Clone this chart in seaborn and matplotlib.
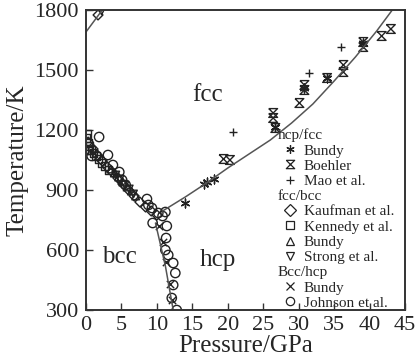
import matplotlib
matplotlib.use("Agg")
import matplotlib.pyplot as plt
import seaborn as sns
import pandas as pd
from matplotlib.lines import Line2D

# ---- data ----
# phase boundaries
hcp_fcc_P = [10.8, 14, 17, 20, 23, 26, 29, 32, 35, 38, 41, 43.2]
hcp_fcc_T = [795, 865, 935, 1010, 1080, 1150, 1235, 1330, 1445, 1565, 1695, 1800]
hcp_bcc_P = [9.8, 11.2, 12.3]
hcp_bcc_T = [735, 520, 300]
melt_P = [0.0, 2.3]
melt_T = [1690, 1800]

# hcp/fcc
bundy_hf_P = [14.0, 16.6, 17.1, 18.0, 26.7, 30.8, 34.0, 39.1]
bundy_hf_T = [835, 930, 940, 955, 1215, 1410, 1460, 1635]
boehler_P = [19.4, 20.3, 26.4, 26.4, 26.7, 30.1, 30.8, 30.8, 34.0, 36.3, 36.3, 39.1, 39.1, 41.7, 43.0]
boehler_T = [1055, 1050, 1285, 1260, 1210, 1335, 1425, 1400, 1460, 1525, 1490, 1640, 1615, 1670, 1705]
mao_P = [20.8, 31.4, 35.9]
mao_T = [1190, 1485, 1615]

# fcc/bcc
kaufman_P = [0.3, 1.0, 1.6, 2.3, 3.0, 3.7, 4.5, 5.2, 6.0, 6.8, 7.6, 8.4, 9.2, 10.0, 1.7]
kaufman_T = [1140, 1105, 1075, 1045, 1015, 990, 960, 930, 900, 870, 840, 815, 795, 775, 1775]
kennedy_P = [0.1, 0.3, 0.5, 0.8, 1.1, 1.4, 1.8, 2.2, 2.6, 3.2, 0.2]
kennedy_T = [1160, 1135, 1120, 1100, 1085, 1070, 1055, 1035, 1020, 1000, 1180]
bundy_fb_P = [3.5, 4.0, 4.6, 5.2, 5.8, 6.4, 7.0]
bundy_fb_T = [1005, 985, 965, 940, 915, 895, 870]
strong_P = [4.2, 4.8, 5.5, 6.1, 6.7, 2.2]
strong_T = [975, 955, 925, 905, 880, 1795]

# bcc/hcp
bundy_bh_P = [10.3, 10.8, 11.3, 11.8, 12.1]
bundy_bh_T = [720, 640, 540, 430, 350]
johnson_P = [0.3, 0.8, 1.85, 3.1, 3.8, 4.7, 5.1, 5.6, 8.6, 8.8, 9.3, 9.4, 10.2, 10.8, 11.2,
             11.4, 11.3, 11.2, 11.6, 12.3, 12.6, 12.3, 12.1, 12.8]
johnson_T = [1100, 1070, 1165, 1075, 1025, 990, 950, 925, 855, 825, 810, 735, 785, 770, 790,
             720, 660, 600, 575, 535, 485, 425, 360, 300]

sns.set_style("ticks")
plt.rcParams['font.family'] = ['Liberation Serif', 'DejaVu Serif']
plt.rcParams['mathtext.fontset'] = 'stix'

fig = plt.figure(figsize=(4.18, 3.62), dpi=100)
ax = fig.add_axes([0.2057, 0.1436, 0.7633, 0.8288])

line_col = "#555555"
mk_col = "#222222"
hourglass = [(-1, 1), (1, 1), (-1, -1), (1, -1), (-1, 1)]

for P, T in [(hcp_fcc_P, hcp_fcc_T), (hcp_bcc_P, hcp_bcc_T), (melt_P, melt_T)]:
    sns.lineplot(x=P, y=T, ax=ax, color=line_col, linewidth=1.1, sort=False)

series = [
    (bundy_hf_P, bundy_hf_T, (6, 2, 0), 40),
    (boehler_P, boehler_T, hourglass, 40),
    (mao_P, mao_T, "+", 40),
    (kaufman_P, kaufman_T, "D", 25),
    (kennedy_P, kennedy_T, "s", 28),
    (bundy_fb_P, bundy_fb_T, "^", 30),
    (strong_P, strong_T, "v", 30),
    (bundy_bh_P, bundy_bh_T, "x", 28),
    (johnson_P, johnson_T, "o", 45),
]
for P, T, m, s in series:
    df = pd.DataFrame({"P": P, "T": T})
    if m in ("+", "x", (6, 2, 0)):
        sns.scatterplot(data=df, x="P", y="T", ax=ax, marker=m, s=s, color=mk_col, linewidth=1.0)
    else:
        sns.scatterplot(data=df, x="P", y="T", ax=ax, marker=m, s=s, facecolor="none",
                        edgecolor=mk_col, linewidth=1.0)

ax.set_xlim(0, 45)
ax.set_ylim(300, 1800)
ax.set_xticks(range(0, 46, 5))
ax.set_yticks(range(300, 1801, 300))
ax.tick_params(direction="in", length=5, width=1, labelsize=16, color="#333333")
ax.tick_params(axis="x", pad=4)
ax.tick_params(axis="y", pad=5)
for sp in ax.spines.values():
    sp.set_linewidth(1.4)
    sp.set_color("#333333")
ax.set_xlabel("Pressure/GPa", fontsize=18, labelpad=0)
ax.set_ylabel("Temperature/K", fontsize=18, labelpad=4)

ax.text(17.2, 1375, "fcc", fontsize=18, ha="center", va="center")
ax.text(4.7, 565, "bcc", fontsize=18, ha="center", va="center")
ax.text(18.6, 550, "hcp", fontsize=18, ha="center", va="center")

# legend with section headers
def h(m):
    if m is None:
        return Line2D([], [], linestyle="none", marker=None)
    return Line2D([], [], linestyle="none", marker=m, markersize=6, color=mk_col,
                  markerfacecolor="none", markeredgewidth=0.9)

handles = [h(None), h((6, 2, 0)), h(hourglass), h("+"),
           h(None), h("D"), h("s"), h("^"), h("v"),
           h(None), h("x"), h("o")]
labels = ["hcp/fcc", "Bundy", "Boehler", "Mao et al.",
          "fcc/bcc", "Kaufman et al.", "Kennedy et al.", "Bundy", "Strong et al.",
          "Bcc/hcp", "Bundy", "Johnson et al."]
leg = ax.legend(handles, labels, loc="lower right", bbox_to_anchor=(1.0, -0.035),
                frameon=False, fontsize=11, handlelength=1.0, handletextpad=0.4,
                labelspacing=0.1, borderpad=0.2)
for i in (0, 4, 9):
    leg.get_texts()[i].set_position((-26, 0))

fig.savefig("out.png", dpi=100)
